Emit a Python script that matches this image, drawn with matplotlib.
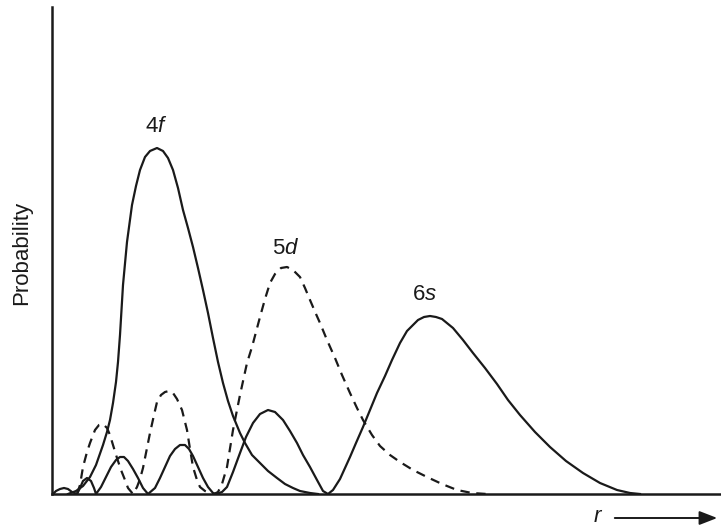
# %% pacotes
import matplotlib
matplotlib.use('Agg')
import matplotlib.pyplot as plt

plt.rcParams['font.family'] = ['Liberation Sans', 'DejaVu Sans']
plt.rcParams['mathtext.fontset'] = 'custom'
plt.rcParams['mathtext.rm'] = 'Liberation Sans'
plt.rcParams['mathtext.it'] = 'Liberation Sans:italic'

# %% dados (unidades arbitrarias)
r_4f = [0.16, 0.24, 0.31, 0.38, 0.44, 0.51, 0.55, 0.58, 0.61, 0.64, 0.66, 0.68, 0.71, 0.75, 0.80, 0.84,
        0.88, 0.93, 0.98, 1.05, 1.11, 1.16, 1.21, 1.26, 1.31, 1.36, 1.41, 1.46, 1.51, 1.56, 1.61, 1.66,
        1.71, 1.76, 1.81, 1.88, 1.93, 2.00, 2.08, 2.16, 2.25, 2.33, 2.41, 2.48, 2.58, 2.66]
p_4f = [0, 0.03, 0.08, 0.17, 0.29, 0.49, 0.62, 0.74, 0.91, 1.12, 1.32, 1.59, 2.09, 2.52, 2.89, 3.08,
        3.24, 3.37, 3.43, 3.46, 3.43, 3.36, 3.24, 3.06, 2.84, 2.66, 2.47, 2.26, 2.04, 1.81, 1.56, 1.32,
        1.11, 0.93, 0.78, 0.61, 0.51, 0.39, 0.31, 0.23, 0.16, 0.10, 0.06, 0.03, 0.01, 0]

r_5d = [0.25, 0.28, 0.31, 0.35, 0.38, 0.43, 0.47, 0.51, 0.55, 0.58, 0.61, 0.65, 0.69, 0.73, 0.76,
        0.81, 0.85, 0.88, 0.91, 0.94, 0.98, 1.02, 1.05, 1.09, 1.13, 1.17, 1.21, 1.25, 1.30, 1.35,
        1.38, 1.41, 1.45, 1.48, 1.53, 1.58, 1.62,
        1.66, 1.70, 1.75, 1.81, 1.88, 1.95, 2.00, 2.04, 2.08, 2.13, 2.18, 2.23, 2.29, 2.35, 2.41,
        2.48, 2.53, 2.58, 2.64, 2.68, 2.75, 2.83, 2.90, 2.98, 3.05, 3.11, 3.20, 3.28, 3.38, 3.48,
        3.61, 3.75, 3.90, 4.05, 4.20, 4.35]
p_5d = [0, 0.09, 0.27, 0.42, 0.51, 0.64, 0.69, 0.70, 0.66, 0.59, 0.49, 0.36, 0.24, 0.14, 0.06,
        0, 0.07, 0.15, 0.26, 0.41, 0.61, 0.79, 0.92, 0.99, 1.02, 1.03, 1.01, 0.95, 0.84, 0.64,
        0.45, 0.27, 0.14, 0.07, 0.03, 0.01, 0,
        0.02, 0.10, 0.27, 0.64, 0.99, 1.31, 1.47, 1.62, 1.77, 1.95, 2.11, 2.20, 2.26, 2.27, 2.24,
        2.17, 2.06, 1.94, 1.80, 1.71, 1.54, 1.36, 1.19, 1.01, 0.86, 0.74, 0.59, 0.48, 0.39, 0.32,
        0.24, 0.17, 0.10, 0.04, 0.01, 0]

r_6s = [0.01, 0.04, 0.08, 0.12, 0.16, 0.20,
        0.25, 0.28, 0.31, 0.35, 0.39, 0.42,
        0.44, 0.49, 0.54, 0.59, 0.64, 0.68, 0.72, 0.76, 0.81, 0.86, 0.91,
        0.96, 1.03, 1.08, 1.13, 1.18, 1.23, 1.28, 1.33, 1.37, 1.41, 1.46, 1.51, 1.56, 1.61,
        1.64, 1.70, 1.75, 1.81, 1.88, 1.94, 2.01, 2.08, 2.16, 2.23, 2.31, 2.38, 2.45, 2.51, 2.58,
        2.65, 2.71,
        2.76, 2.81, 2.88, 2.93, 2.98, 3.04, 3.11, 3.18, 3.25, 3.33, 3.40, 3.48, 3.55, 3.66, 3.72,
        3.78, 3.84, 3.90, 4.01, 4.11, 4.21, 4.33, 4.45, 4.56, 4.68, 4.83, 4.98, 5.14, 5.31, 5.48,
        5.65, 5.78, 5.88]
p_6s = [0, 0.03, 0.05, 0.06, 0.05, 0.02,
        0, 0.06, 0.13, 0.16, 0.13, 0.06,
        0, 0.07, 0.17, 0.27, 0.34, 0.37, 0.37, 0.33, 0.25, 0.16, 0.06,
        0, 0.06, 0.16, 0.27, 0.38, 0.45, 0.49, 0.49, 0.45, 0.38, 0.27, 0.16, 0.07, 0.01,
        0, 0.02, 0.07, 0.22, 0.41, 0.57, 0.71, 0.80, 0.84, 0.82, 0.74, 0.63, 0.51, 0.39, 0.27,
        0.14, 0.03,
        0, 0.04, 0.15, 0.26, 0.37, 0.51, 0.67, 0.84, 1.01, 1.18, 1.34, 1.51, 1.63, 1.74, 1.77,
        1.78, 1.77, 1.75, 1.66, 1.54, 1.41, 1.26, 1.10, 0.94, 0.79, 0.62, 0.47, 0.33, 0.21, 0.11,
        0.04, 0.01, 0]

rotulos = ['4$\\mathit{f}$', '5$\\mathit{d}$', '6$\\mathit{s}$']
rotulos_r = [1.04, 2.34, 3.73]
rotulos_p = [3.67, 2.45, 1.99]

# %% grafico
cor = '#1a1a1a'
fig = plt.figure(figsize=(7.21, 5.28), dpi=100)
ax = fig.add_axes([52 / 721, 34 / 528, 669 / 721, 487 / 528])

ax.plot(r_4f, p_4f, color=cor, lw=1.6, solid_joinstyle='round')
ax.plot(r_5d, p_5d, color=cor, lw=1.6, linestyle=(0, (4.2, 3.0)))
ax.plot(r_6s, p_6s, color=cor, lw=1.6, solid_joinstyle='round')

for txt, x, y in zip(rotulos, rotulos_r, rotulos_p):
    ax.text(x, y, txt, fontsize=16, color=cor, ha='center', va='center')

ax.set_xlim(0, 6.69)
ax.set_ylim(0, 4.87)
ax.spines['top'].set_visible(False)
ax.spines['right'].set_visible(False)
for s in ['left', 'bottom']:
    ax.spines[s].set_linewidth(1.8)
    ax.spines[s].set_color(cor)
ax.set_xticks([])
ax.set_yticks([])

fig.text(22 / 721, 1 - 253 / 528, 'Probability', rotation=90, fontsize=16,
         color=cor, ha='center', va='center')
fig.text(598 / 721, 1 - 517 / 528, '$\\mathit{r}$', fontsize=16, color=cor,
         ha='center', va='center')
fig.patches.append(matplotlib.patches.FancyArrowPatch(
    (612 / 721, 1 - 518 / 528), (720 / 721, 1 - 518 / 528),
    transform=fig.transFigure, arrowstyle='-|>,head_length=0.9,head_width=0.35',
    mutation_scale=12, color=cor, lw=1.4))

fig.savefig('out.png', dpi=100)
